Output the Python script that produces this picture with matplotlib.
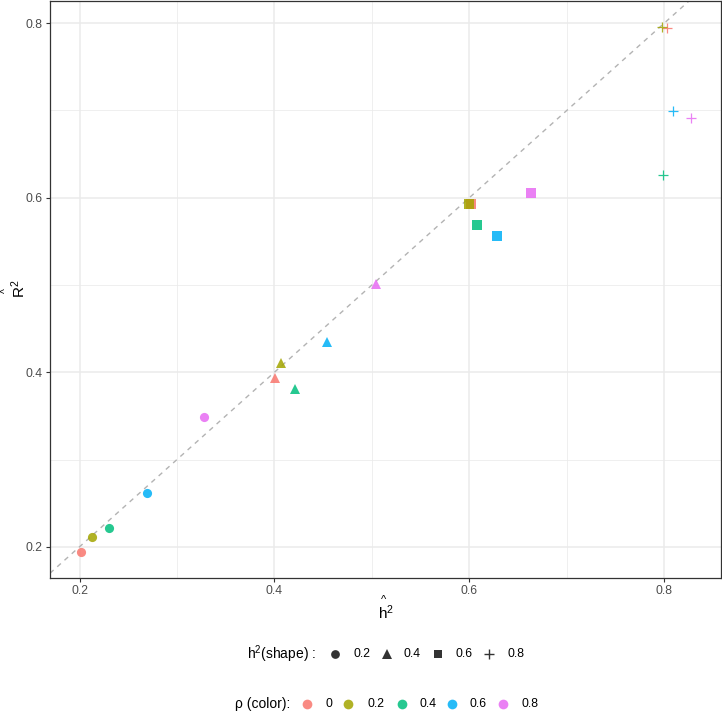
import matplotlib
matplotlib.use("Agg")
import matplotlib.pyplot as plt
from matplotlib.ticker import MultipleLocator

plt.rcParams['font.family'] = ['Liberation Sans', 'DejaVu Sans']
plt.rcParams['mathtext.fontset'] = 'custom'
plt.rcParams['mathtext.rm'] = 'Liberation Sans'
plt.rcParams['mathtext.it'] = 'Liberation Sans'
plt.rcParams['mathtext.bf'] = 'Liberation Sans:bold'
plt.rcParams['mathtext.default'] = 'regular'

# true values
rho = [0, 0.2, 0.4, 0.6, 0.8]
h2_levels = [0.2, 0.4, 0.6, 0.8]
# estimated h2 (x) and R2 (y), one row per h2 level, one column per rho
h2_hat = [
    [0.201, 0.213, 0.230, 0.269, 0.328],
    [0.4003, 0.4069, 0.4208, 0.454, 0.5046],
    [0.6013, 0.600, 0.6075, 0.6284, 0.6629],
    [0.8028, 0.7976, 0.799, 0.8095, 0.827],
]
r2_hat = [
    [0.1943, 0.211, 0.222, 0.262, 0.349],
    [0.3935, 0.4107, 0.3813, 0.435, 0.5012],
    [0.5924, 0.5924, 0.5687, 0.556, 0.605],
    [0.794, 0.7954, 0.626, 0.699, 0.691],
]
tick_vals = [0.2, 0.4, 0.6, 0.8]

colors = ['#F8766D', '#A3A500', '#00BF7D', '#00B0F6', '#E76BF3']
shapes = ['o', '^', 's', '+']
msizes = [6.6, 7.0, 6.6, 7.6]

W, H = 722, 711
fig = plt.figure(figsize=(W / 100, H / 100), dpi=100)
ax = fig.add_axes([50 / W, 1 - 578 / H, 671 / W, 577 / H])

z = 3
for i, h in enumerate(h2_levels):
    for j, r in enumerate(rho):
        ax.plot(h2_hat[i][j], r2_hat[i][j], linestyle='none', marker=shapes[i],
                markersize=msizes[i], color=colors[j], alpha=0.85,
                markeredgewidth=0.9 if shapes[i] == '+' else 0, zorder=z)
        z += 0.01

# ggplot-like 5% expansion of the data range
xs = [v for row in h2_hat for v in row]
ys = [v for row in r2_hat for v in row]
dx = (max(xs) - min(xs)) * 0.05
dy = (max(ys) - min(ys)) * 0.05
ax.set_xlim(min(xs) - dx, max(xs) + dx)
ax.set_ylim(min(ys) - dy, max(ys) + dy)
ax.axline((0, 0), slope=1, color='#B3B3B3', lw=1.0, ls=(0, (3.5, 3.5)), zorder=2)

ax.set_xticks(tick_vals)
ax.set_yticks(tick_vals)
ax.set_xticklabels([str(v) for v in tick_vals])
ax.set_yticklabels([str(v) for v in tick_vals])
ax.xaxis.set_minor_locator(MultipleLocator(0.1))
ax.yaxis.set_minor_locator(MultipleLocator(0.1))
ax.grid(which='major', color='#EBEBEB', lw=1.1, zorder=0)
ax.grid(which='minor', color='#EBEBEB', lw=0.55, zorder=0)
ax.set_axisbelow(True)
ax.tick_params(which='major', length=2.6, width=0.8, color='#333333',
               labelsize=8.8, labelcolor='#4D4D4D', pad=2.5)
ax.tick_params(which='minor', length=0)
for s in ax.spines.values():
    s.set_color('#333333')
    s.set_linewidth(0.9)

# axis titles: hat placed over the whole h^2 / R^2
fig.text(385.5 / W, 1 - 613 / H, r'h$^2$', ha='center', va='center', fontsize=11)
fig.text(384 / W, 1 - 600 / H, '^', ha='center', va='center', fontsize=8)
fig.text(19 / W, 1 - 289 / H, r'R$^2$', ha='center', va='center', fontsize=11,
         rotation=90)
fig.text(6 / W, 1 - 291 / H, '^', ha='center', va='center', fontsize=7.5, rotation=90)

# legends drawn on an overlay in pixel space
lg = fig.add_axes([0, 0, 1, 1], zorder=-1)
lg.set_xlim(0, W)
lg.set_ylim(H, 0)
lg.axis('off')

fig.text(316 / W, 1 - 654 / H, r'h$^2$(shape) :', ha='right', va='center', fontsize=10)
shape_x = [334.7, 386.7, 437.7, 489]
shape_tx = [353, 404, 456, 508]
for k, h in enumerate(h2_levels):
    lg.plot(shape_x[k], 654, marker=shapes[k], markersize=msizes[k] - 0.3,
            color='#333333', markeredgewidth=1.0 if shapes[k] == '+' else 0,
            linestyle='none')
    lg.text(shape_tx[k], 654, str(h), ha='left', va='center', fontsize=8.8,
            color='black')

fig.text(290 / W, 1 - 704 / H, 'ρ (color):', ha='right', va='center', fontsize=10)
col_x = [306.7, 348, 401.7, 452, 503]
col_tx = [325, 367, 419, 470, 522]
for k, r in enumerate(rho):
    lg.plot(col_x[k], 704, marker='o', markersize=7.0, color=colors[k], alpha=0.85,
            markeredgewidth=0, linestyle='none')
    lg.text(col_tx[k], 704, str(r), ha='left', va='center', fontsize=8.8,
            color='black')

fig.savefig('out.png', dpi=100)
